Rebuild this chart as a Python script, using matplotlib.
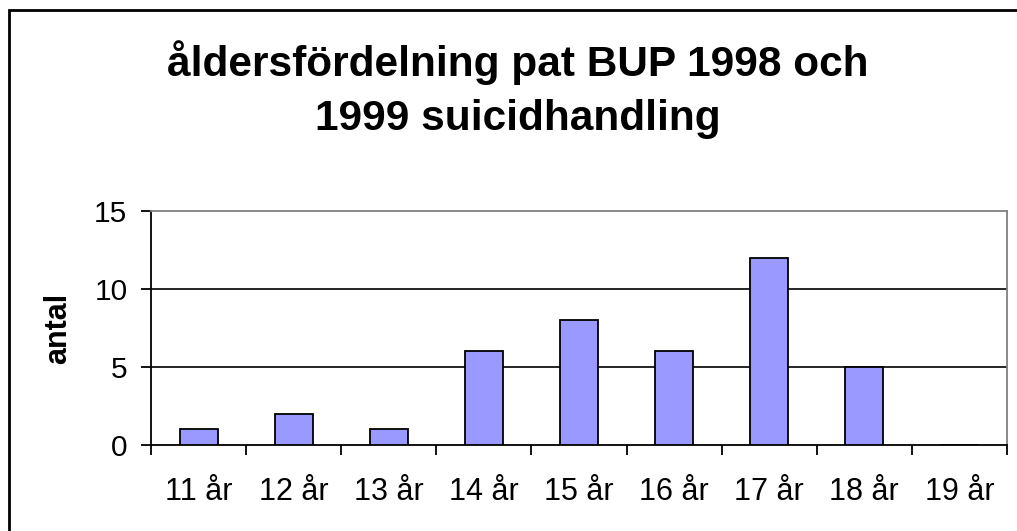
import matplotlib
matplotlib.use("Agg")
import matplotlib.pyplot as plt
import matplotlib.patches as mpatches
import numpy as np

plt.rcParams['font.family'] = ['Liberation Sans', 'DejaVu Sans']

categories = ["11 år", "12 år", "13 år", "14 år", "15 år", "16 år", "17 år", "18 år", "19 år"]
counts = [1, 2, 1, 6, 8, 6, 12, 5, 0]
title = "åldersfördelning pat BUP 1998 och\n1999 suicidhandling"
ylabel = "antal"
yticks = [0, 5, 10, 15]

fig = plt.figure(figsize=(10.17, 5.31), dpi=100)
ax = fig.add_axes([151/1017, 86/531, 856/1017, 234/531])

x = np.arange(len(categories)) + 0.5
ax.bar(x, counts, width=0.4, color="#9999FF", edgecolor="black", linewidth=1.3, zorder=3)

ax.set_xlim(0, len(categories))
ax.set_ylim(0, 15)
ax.set_yticks(yticks)
ax.set_xticks(np.arange(len(categories) + 1))
ax.set_xticklabels([])
ax.set_xticks(x, minor=True)
ax.set_xticklabels(categories, minor=True)
ax.tick_params(axis="x", which="major", direction="out", length=7, width=1.3, color="black")
ax.tick_params(axis="x", which="minor", length=0, pad=23, labelsize=22)
ax.tick_params(axis="y", direction="out", length=7, width=1.3, pad=10, labelsize=21.5)

for y in [5, 10]:
    ax.axhline(y, color="black", linewidth=1.2, zorder=1)

ax.spines["left"].set_color("black")
ax.spines["left"].set_linewidth(1.3)
ax.spines["bottom"].set_color("black")
ax.spines["bottom"].set_linewidth(1.3)
ax.spines["top"].set_color("#808080")
ax.spines["top"].set_linewidth(1.3)
ax.spines["right"].set_color("#808080")
ax.spines["right"].set_linewidth(1.3)

ax.set_ylabel(ylabel, fontsize=22, fontweight="bold", labelpad=15)
fig.text(0.509, 0.832, title, ha="center", va="center", fontsize=30.5,
         fontweight="bold", linespacing=1.45)

# outer chart frame (only left and top edges fall inside the picture)
fig.patches.append(mpatches.Rectangle((9/1017, -0.1), 1.2, (531 - 10)/531 + 0.1,
                                      transform=fig.transFigure, fill=False,
                                      edgecolor="black", linewidth=2))

fig.savefig("out.png", dpi=100)
